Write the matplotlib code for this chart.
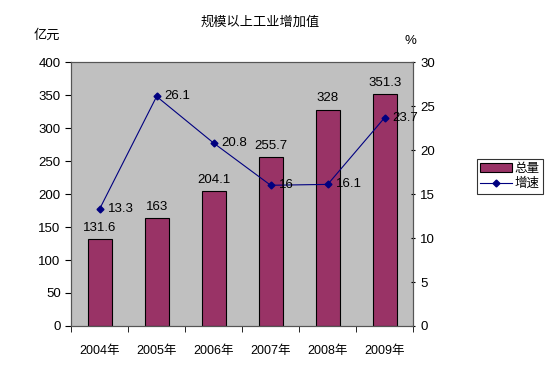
import matplotlib
matplotlib.use("Agg")
import matplotlib.pyplot as plt
import numpy as np

plt.rcParams['font.family'] = ['Liberation Sans', 'Noto Sans CJK SC']

years = ['2004年', '2005年', '2006年', '2007年', '2008年', '2009年']
total = [131.6, 163, 204.1, 255.7, 328, 351.3]
growth = [13.3, 26.1, 20.8, 16, 16.1, 23.7]
total_labels = ['131.6', '163', '204.1', '255.7', '328', '351.3']
growth_labels = ['13.3', '26.1', '20.8', '16', '16.1', '23.7']

fig = plt.figure(figsize=(5.51, 3.7), dpi=100)
ax = fig.add_axes([0.129, 0.119, 0.621, 0.713])
ax.set_facecolor('#C0C0C0')
x = np.arange(len(years))
bars = ax.bar(x, total, width=0.42, color='#993366', edgecolor='black', linewidth=0.8, zorder=2, label='总量')
ax.set_xlim(-0.5, 5.5)
ax.set_ylim(0, 400)
ax.set_yticks(range(0, 401, 50))
ax.set_xticks(x)
ax.set_xticklabels(years, fontsize=9)
ax.tick_params(axis='x', length=0, pad=14)
ax.set_xticks(np.arange(-0.5, 6, 1), minor=True)
ax.tick_params(axis='x', which='minor', length=4, direction='out')
ax.tick_params(axis='y', labelsize=9.5, length=4, direction='out')
for i, v in enumerate(total):
    ax.text(x[i], v + 8, total_labels[i], ha='center', va='bottom', fontsize=9.5)

ax2 = ax.twinx()
ax2.plot(x, growth, color='#000080', marker='D', markersize=3.5, linewidth=0.8, label='增速', zorder=3)
ax2.set_ylim(0, 30)
ax2.set_yticks(range(0, 31, 5))
ax2.tick_params(axis='y', labelsize=9.5, length=3, direction='inout')
for i, v in enumerate(growth):
    ax2.text(x[i] + 0.14, v, growth_labels[i], ha='left', va='center', fontsize=9.5)

for a in (ax, ax2):
    for s in a.spines.values():
        s.set_color('#555555')
        s.set_linewidth(0.8)

fig.text(0.472, 0.94, '规模以上工业增加值', ha='center', va='center', fontsize=9.5)
fig.text(0.085, 0.905, '亿元', ha='center', va='center', fontsize=9.5)
fig.text(0.735, 0.89, '%', ha='left', va='center', fontsize=9.5)

h1, l1 = ax.get_legend_handles_labels()
h2, l2 = ax2.get_legend_handles_labels()
leg = fig.legend(h1 + h2, l1 + l2, loc='center', bbox_to_anchor=(0.925, 0.523), fontsize=9,
                 frameon=True, fancybox=False, edgecolor='black', handlelength=2.5,
                 borderpad=0.3, labelspacing=0.2, handletextpad=0.2, borderaxespad=0)
leg.get_frame().set_linewidth(0.8)

fig.savefig('out.png', dpi=100)
